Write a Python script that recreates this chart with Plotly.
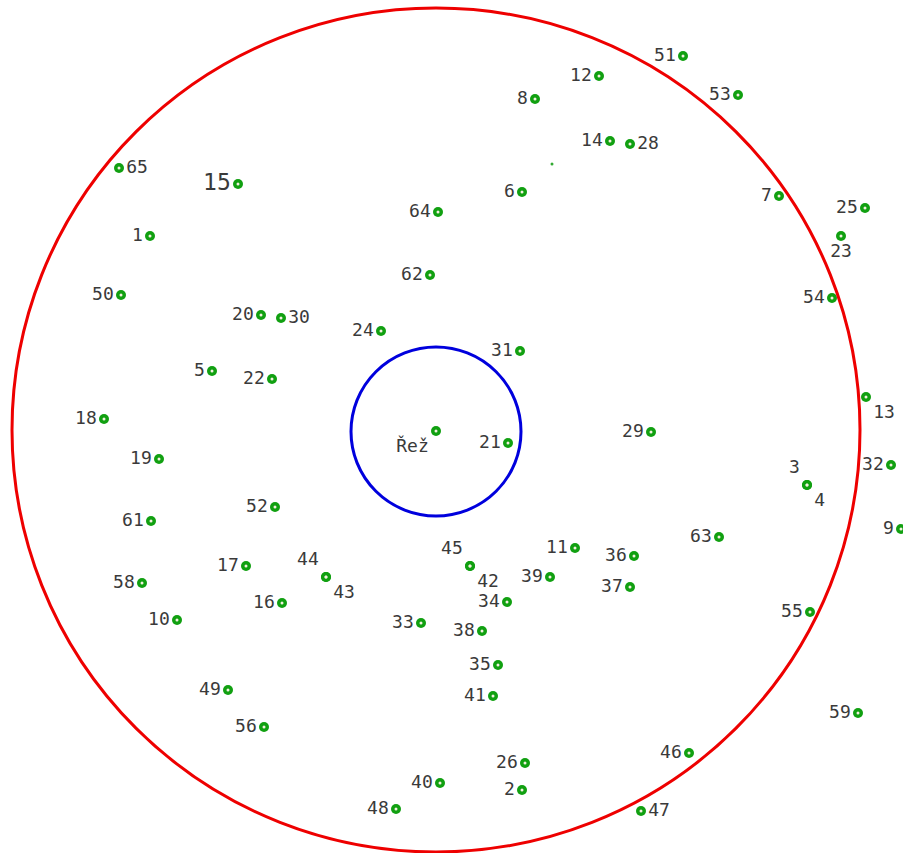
import plotly.graph_objects as go

# Point positions on the map (drawing units; y grows downward)
names = ["65", "15", "1", "50", "8", "12", "51", "53", "14", "28", "6", "64", "62",
         "7", "25", "23", "54", "20", "30", "24", "31", "5", "22", "13", "18", "Řež",
         "21", "29", "19", "3", "4", "32", "9", "61", "52", "63", "11", "36", "45", "42",
         "17", "44", "43", "39", "37", "58", "16", "34", "10", "33", "38", "55", "35",
         "41", "49", "59", "56", "46", "26", "40", "2", "48", "47"]
xs = [119, 238, 150, 121, 535, 599, 683, 738, 610, 630, 522, 438, 430,
      779, 865, 841, 832, 261, 281, 381, 520, 212, 272, 866, 104, 436,
      508, 651, 159, 807, 807, 891, 901, 151, 275, 719, 575, 634, 470, 470,
      246, 326, 326, 550, 630, 142, 282, 507, 177, 421, 482, 810, 498,
      493, 228, 858, 264, 689, 525, 440, 522, 396, 641]
ys = [168, 184, 236, 295, 99, 76, 56, 95, 141, 144, 192, 212, 275,
      196, 208, 236, 298, 315, 318, 331, 351, 371, 379, 397, 419, 431,
      443, 432, 459, 485, 485, 465, 529, 521, 507, 537, 548, 556, 566, 566,
      566, 577, 577, 577, 587, 583, 603, 602, 620, 623, 631, 612, 665,
      696, 690, 713, 727, 753, 763, 783, 790, 809, 811]
label_pos = ["middle right", "middle left", "middle left", "middle left", "middle left",
             "middle left", "middle left", "middle left", "middle left", "middle right",
             "middle left", "middle left", "middle left", "middle left", "middle left",
             "bottom center", "middle left", "middle left", "middle right", "middle left",
             "middle left", "middle left", "middle left", "bottom right", "middle left",
             "bottom left", "middle left", "middle left", "middle left", "top left",
             "bottom right", "middle left", "middle left", "middle left", "middle left",
             "middle left", "middle left", "middle left", "top left", "bottom right",
             "middle left", "top left", "bottom right", "middle left", "middle left",
             "middle left", "middle left", "middle left", "middle left", "middle left",
             "middle left", "middle left", "middle left", "middle left", "middle left",
             "middle left", "middle left", "middle left", "middle left", "middle left",
             "middle left", "middle left", "middle right"]
label_size = [18 if n != "15" else 23 for n in names]

# Circles: centre and radii
centre_x, centre_y = 436, 430
outer_radius = 424
inner_radius = 85

fig = go.Figure()
fig.add_shape(type="circle", xref="x", yref="y",
              x0=centre_x - outer_radius, x1=centre_x + outer_radius,
              y0=centre_y - outer_radius + 2, y1=centre_y + outer_radius - 2,
              line=dict(color="#ee0000", width=3))
fig.add_shape(type="circle", xref="x", yref="y",
              x0=centre_x - inner_radius, x1=centre_x + inner_radius,
              y0=centre_y - inner_radius + 2, y1=centre_y + inner_radius + 1,
              line=dict(color="#0000dd", width=3))

fig.add_trace(go.Scatter(
    x=xs, y=ys, mode="markers+text", text=names, textposition=label_pos,
    textfont=dict(family="DejaVu Sans Mono", size=label_size, color="#3a3a3a"),
    marker=dict(symbol="circle", size=10, color="#11a011"),
    hoverinfo="text", showlegend=False))
fig.add_trace(go.Scatter(
    x=xs, y=ys, mode="markers",
    marker=dict(symbol="circle", size=3, color="#f4f0e0"),
    hoverinfo="skip", showlegend=False))
# small stray point
fig.add_trace(go.Scatter(x=[552], y=[164], mode="markers",
                         marker=dict(size=3, color="#33aa33"),
                         hoverinfo="skip", showlegend=False))

fig.update_layout(
    width=903, height=853, margin=dict(l=0, r=0, t=0, b=0),
    paper_bgcolor="white", plot_bgcolor="white",
    xaxis=dict(range=[0, 903], visible=False, showgrid=False, zeroline=False),
    yaxis=dict(range=[853, 0], visible=False, showgrid=False, zeroline=False),
)
fig.write_html("out.html", config={"displayModeBar": False},
               post_script="document.body.style.margin='0';document.body.style.overflow='hidden';")
